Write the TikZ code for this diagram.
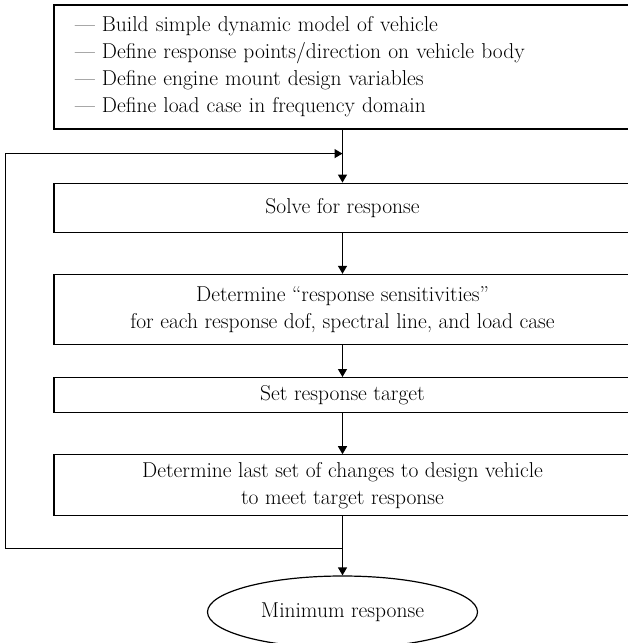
\documentclass[tikz,border=0pt]{standalone}
\usepackage{tikz}
\usetikzlibrary{shapes.geometric,arrows.meta,positioning,calc}
\tikzstyle{line} = [draw, line width=1.2pt, -{Triangle[length=8pt,width=9pt]}]
\tikzstyle{stage} = [draw, line width=1.2pt, rectangle, minimum width=577pt, inner sep=2pt, align=center, font=\fontsize{21.5}{27}\selectfont]

\begin{document}
\begin{tikzpicture}[node distance = 41pt, auto]
    \clip (0,0) rectangle (628pt,-643pt);
    \node [stage, minimum height=124pt, text width=535pt, inner xsep=21pt, align=left] (setup) at (342.5pt,-67pt) {--- Build simple dynamic model of vehicle\\--- Define response points/direction on vehicle body\\--- Define engine mount design variables\\--- Define load case in frequency domain};
    \node [stage, minimum height=49pt, below=53pt of setup] (solve) {Solve for response};
    \node [stage, minimum height=70pt, below=41pt of solve] (sens) {Determine “response sensitivities”\\for each response dof, spectral line, and load case};
    \node [stage, minimum height=35pt, below=32pt of sens] (target) {Set response target};
    \node [stage, minimum height=61pt, below=41pt of target] (change) {Determine last set of changes to design vehicle\\to meet target response};
    \node [draw, line width=1.2pt, ellipse, minimum width=270pt, minimum height=72pt, font=\fontsize{21.5}{27}\selectfont, below=59pt of change] (minres) {Minimum response};

    \coordinate [below=24pt of setup] (join);
    \coordinate [below=32pt of change] (back);
    \coordinate (corner) at ([xshift=-48pt]setup.south west |- join);

    \path [line] (setup) -- (solve);
    \path [line] (solve) -- (sens);
    \path [line] (sens) -- (target);
    \path [line] (target) -- (change);
    \path [line] (change) -- (minres);
    \path [line] (back) -| (corner) -- (join);
\end{tikzpicture}
\end{document}
